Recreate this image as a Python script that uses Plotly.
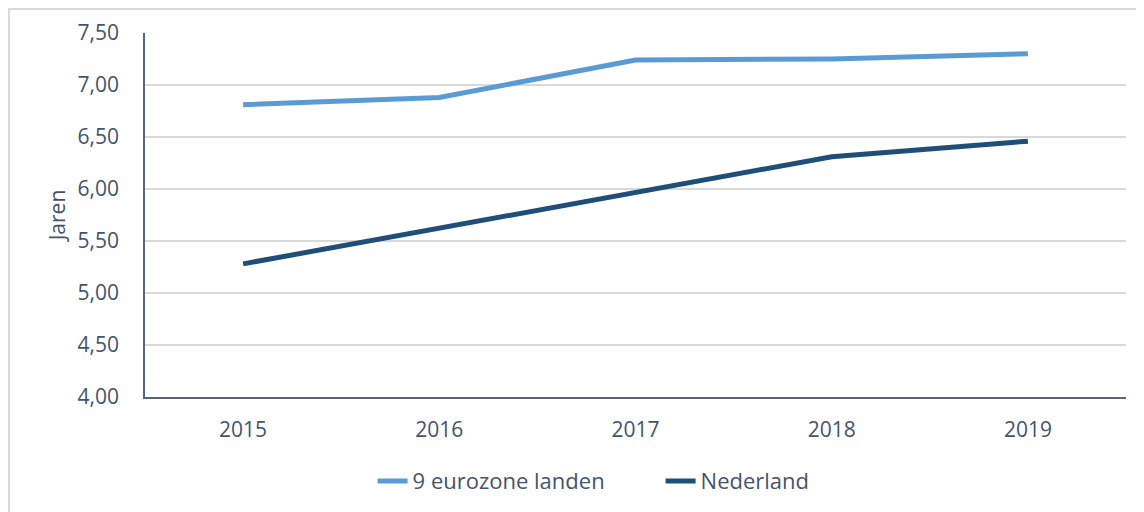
import plotly.graph_objects as go

# Gemiddelde looptijd (jaren)
years = ["2015", "2016", "2017", "2018", "2019"]
eurozone_9 = [6.81, 6.88, 7.24, 7.25, 7.30]
nederland = [5.28, 5.62, 5.97, 6.31, 6.46]
y_ticks = [4.0, 4.5, 5.0, 5.5, 6.0, 6.5, 7.0, 7.5]
y_tick_labels = ["4,00", "4,50", "5,00", "5,50", "6,00", "6,50", "7,00", "7,50"]

_TEXT = "#44546A"
_GRID = "#D9D9D9"
_AXIS = "#5A6678"
_FONT = "Open Sans, Liberation Sans, sans-serif"

fig = go.Figure()
fig.add_trace(
    go.Scatter(
        x=years,
        y=eurozone_9,
        mode="lines",
        name="9 eurozone landen",
        line={"color": "#5B9BD5", "width": 5},
    )
)
fig.add_trace(
    go.Scatter(
        x=years,
        y=nederland,
        mode="lines",
        name="Nederland",
        line={"color": "#1F4E79", "width": 5},
    )
)

# page body has an 8px margin, so the figure is sized to fit inside it
fig.update_layout(
    width=1136,
    height=504,
    paper_bgcolor="white",
    plot_bgcolor="white",
    font={"family": _FONT, "color": _TEXT, "size": 21},
    margin={"l": 137, "r": 18, "t": 25, "b": 115, "autoexpand": False},
    legend={
        "orientation": "h",
        "x": 0.232,
        "xanchor": "left",
        "y": -0.231,
        "yanchor": "middle",
        "font": {"size": 22, "color": _TEXT},
        "entrywidth": 243,
        "itemwidth": 30,
    },
    shapes=[
        {
            "type": "rect",
            "xref": "paper",
            "yref": "paper",
            "x0": -0.1386,
            "x1": 1.0153,
            "y0": -0.35,
            "y1": 1.0659,
            "line": {"color": _GRID, "width": 2},
            "layer": "below",
        }
    ],
)
fig.update_xaxes(
    type="category",
    range=[-0.5, 4.5],
    showgrid=False,
    showline=True,
    linecolor=_AXIS,
    linewidth=1.5,
    ticks="",
    ticklabelstandoff=13,
    zeroline=False,
)
fig.update_yaxes(
    range=[4.0, 7.5],
    tickvals=y_ticks,
    ticktext=y_tick_labels,
    showgrid=True,
    gridcolor=_GRID,
    gridwidth=1.5,
    showline=True,
    linecolor=_AXIS,
    linewidth=1.5,
    ticks="",
    ticklabelstandoff=20,
    zeroline=False,
    title={"text": "Jaren", "standoff": 6, "font": {"size": 21, "color": _TEXT}},
)

fig.write_html("out.html")
